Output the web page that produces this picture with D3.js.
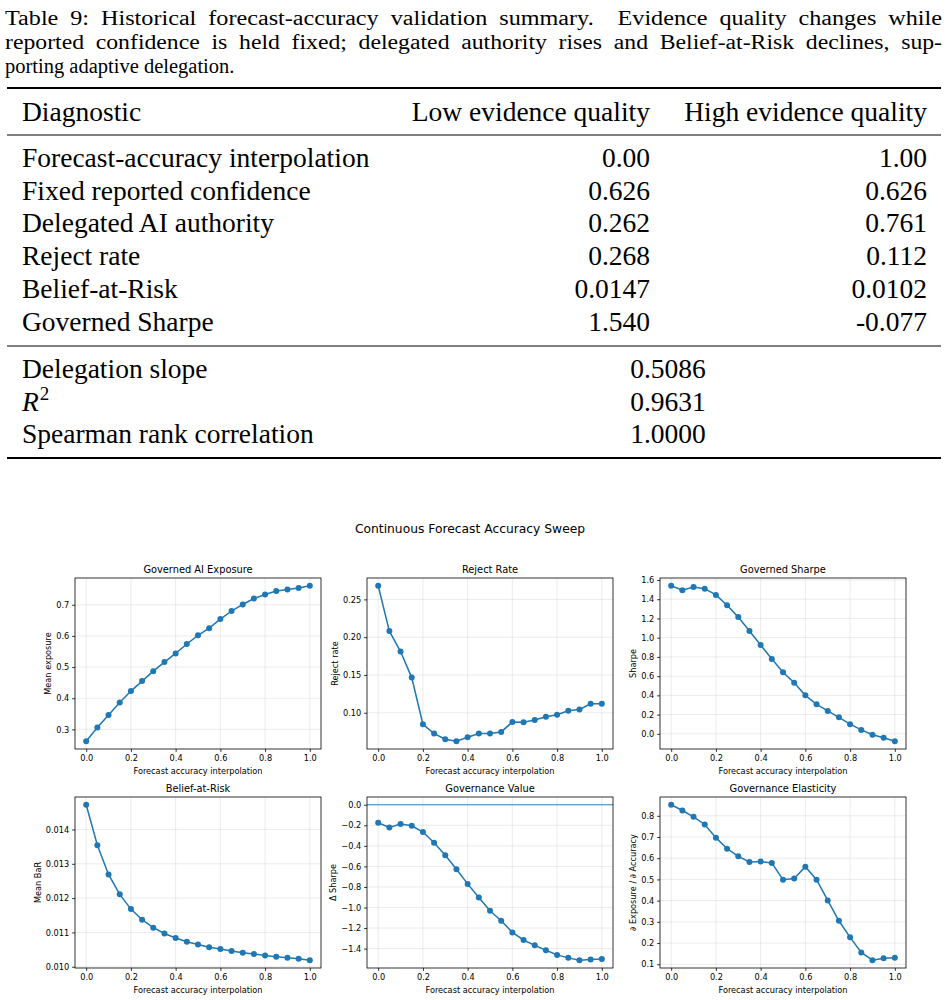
<!DOCTYPE html>
<html>
<head>
<meta charset="utf-8">
<script src="https://cdn.jsdelivr.net/npm/d3@7"></script>
<style>
body {
  margin: 0;
  padding: 0;
  background: #fff;
}
.tex {
  font-family: "Liberation Serif", "DejaVu Serif", serif;
  fill: #000;
}
.mpl {
  font-family: "DejaVu Sans", sans-serif;
  fill: #000;
}
.grid line {
  stroke: #b0b0b0;
  stroke-opacity: 0.3;
  stroke-width: 0.8px;
}
</style>
</head>
<body>
<svg></svg>

<script>
// table
var captionLines = [
  'Table 9: Historical forecast-accuracy validation summary.  Evidence quality changes while',
  'reported confidence is held fixed; delegated authority rises and Belief-at-Risk declines, sup-',
  'porting adaptive delegation.'
];
var tableHeader = ['Diagnostic', 'Low evidence quality', 'High evidence quality'];
var rowLabels = ['Forecast-accuracy interpolation', 'Fixed reported confidence', 'Delegated AI authority',
  'Reject rate', 'Belief-at-Risk', 'Governed Sharpe'];
var lowValues = ['0.00', '0.626', '0.262', '0.268', '0.0147', '1.540'];
var highValues = ['1.00', '0.626', '0.761', '0.112', '0.0102', '-0.077'];
var fitLabels = ['Delegation slope', 'R2', 'Spearman rank correlation'];
var fitValues = ['0.5086', '0.9631', '1.0000'];

// sweep
var accuracy = [0, 0.05, 0.1, 0.15, 0.2, 0.25, 0.3, 0.35, 0.4, 0.45, 0.5,
  0.55, 0.6, 0.65, 0.7, 0.75, 0.8, 0.85, 0.9, 0.95, 1.0];
var exposure = [0.262, 0.306, 0.346, 0.386, 0.423, 0.455, 0.487, 0.516, 0.544, 0.574, 0.602,
  0.625, 0.654, 0.680, 0.701, 0.720, 0.733, 0.744, 0.749, 0.754, 0.761];
var rejectRate = [0.268, 0.208, 0.181, 0.1465, 0.0847, 0.0724, 0.0649, 0.0623, 0.0675, 0.0724, 0.0724,
  0.0746, 0.0877, 0.0873, 0.0904, 0.0947, 0.0974, 0.1026, 0.1044, 0.1118, 0.112];
var sharpe = [1.540, 1.493, 1.528, 1.510, 1.445, 1.338, 1.214, 1.069, 0.924, 0.779, 0.641,
  0.531, 0.400, 0.307, 0.238, 0.172, 0.100, 0.041, -0.010, -0.041, -0.077];
var beliefAtRisk = [0.01472, 0.01354, 0.01269, 0.01211, 0.01168, 0.01137, 0.01114, 0.01097, 0.01084, 0.01073, 0.01065,
  0.01057, 0.01052, 0.01046, 0.01041, 0.01037, 0.01033, 0.01029, 0.01026, 0.01023, 0.01019];
var governanceValue = [-0.175, -0.220, -0.188, -0.204, -0.265, -0.369, -0.491, -0.627, -0.770, -0.902, -1.031,
  -1.128, -1.242, -1.316, -1.368, -1.416, -1.461, -1.490, -1.513, -1.507, -1.500];
var elasticity = [0.852, 0.825, 0.795, 0.759, 0.697, 0.645, 0.609, 0.582, 0.584, 0.578, 0.499,
  0.504, 0.560, 0.499, 0.401, 0.305, 0.227, 0.156, 0.119, 0.128, 0.131];

var xTicks = [0, 0.2, 0.4, 0.6, 0.8, 1.0];
var exposureTicks = [0.3, 0.4, 0.5, 0.6, 0.7];
var rejectTicks = [0.10, 0.15, 0.20, 0.25];
var sharpeTicks = [0, 0.2, 0.4, 0.6, 0.8, 1.0, 1.2, 1.4, 1.6];
var barTicks = [0.010, 0.011, 0.012, 0.013, 0.014];
var valueTicks = [0, -0.2, -0.4, -0.6, -0.8, -1.0, -1.2, -1.4];
var elasticityTicks = [0.1, 0.2, 0.3, 0.4, 0.5, 0.6, 0.7, 0.8];

var suptitle = 'Continuous Forecast Accuracy Sweep';
var xLabel = 'Forecast accuracy interpolation';

var panels = [
  {title: 'Governed AI Exposure', ylabel: 'Mean exposure', values: exposure, ticks: exposureTicks, fmt: '.1f'},
  {title: 'Reject Rate', ylabel: 'Reject rate', values: rejectRate, ticks: rejectTicks, fmt: '.2f'},
  {title: 'Governed Sharpe', ylabel: 'Sharpe', values: sharpe, ticks: sharpeTicks, fmt: '.1f'},
  {title: 'Belief-at-Risk', ylabel: 'Mean BaR', values: beliefAtRisk, ticks: barTicks, fmt: '.3f'},
  {title: 'Governance Value', ylabel: '\u0394 Sharpe', values: governanceValue, ticks: valueTicks, fmt: '.1f', zeroLine: true},
  {title: 'Governance Elasticity', ylabel: '\u2202 Exposure / \u2202 Accuracy', values: elasticity, ticks: elasticityTicks, fmt: '.1f'}
];

var width = 949,
  height = 1000;

var svg = d3.select('svg')
  .attr('width', width)
  .attr('height', height);

// ---- caption + table ----
var cap = svg.append('g').attr('class', 'tex');
var capWidth = 937;
captionLines.forEach(function(line, i) {
  var t = cap.append('text')
    .attr('x', 5)
    .attr('y', 25 + i * 24)
    .attr('font-size', 20.5)
    .attr('xml:space', 'preserve')
    .text(line);
  if (i < captionLines.length - 1) {
    // justified lines: extra word space, glyphs stretched for the rest
    t.attr('word-spacing', 5)
      .attr('textLength', capWidth)
      .attr('lengthAdjust', 'spacingAndGlyphs');
  }
});

var rule = function(y, w) {
  svg.append('line')
    .attr('x1', 7).attr('x2', 941)
    .attr('y1', y).attr('y2', y)
    .attr('stroke', '#000')
    .attr('stroke-width', w);
};
rule(88, 2.2);
rule(135, 1.2);
rule(346, 1.2);
rule(458, 2.2);

var tbl = svg.append('g').attr('class', 'tex').attr('font-size', 27.5);
var colX = [22, 650, 927];

tableHeader.forEach(function(h, i) {
  tbl.append('text')
    .attr('x', colX[i])
    .attr('y', 121)
    .attr('text-anchor', i === 0 ? 'start' : 'end')
    .text(h);
});

var rowY = d3.range(rowLabels.length).map(function(i) { return 167 + i * 32.7; });
rowLabels.forEach(function(r, i) {
  tbl.append('text').attr('x', colX[0]).attr('y', rowY[i]).text(r);
  tbl.append('text').attr('x', colX[1]).attr('y', rowY[i]).attr('text-anchor', 'end').text(lowValues[i]);
  tbl.append('text').attr('x', colX[2]).attr('y', rowY[i]).attr('text-anchor', 'end').text(highValues[i]);
});

fitLabels.forEach(function(r, i) {
  var y = 378 + i * 32.7;
  var t = tbl.append('text').attr('x', colX[0]).attr('y', y);
  if (r === 'R2') {
    t.append('tspan').attr('font-style', 'italic').text('R');
    t.append('tspan').attr('font-size', 19).attr('dx', 1).attr('dy', -11).text('2');
  } else {
    t.text(r);
  }
  tbl.append('text').attr('x', 668).attr('y', y).attr('text-anchor', 'middle').text(fitValues[i]);
});

// ---- charts ----
svg.append('text')
  .attr('class', 'mpl')
  .attr('x', 470)
  .attr('y', 532.5)
  .attr('text-anchor', 'middle')
  .attr('font-size', 12.3)
  .text(suptitle);

var colLeft = [75, 367, 660],
  rowTop = [578, 797],
  pw = 246,
  ph = 171;

var fs = 8.2;
var blue = '#1f77b4';

panels.forEach(function(p, k) {
  var g = svg.append('g')
    .attr('class', 'mpl')
    .attr('transform', 'translate(' + colLeft[k % 3] + ',' + rowTop[Math.floor(k / 3)] + ')');

  var x = d3.scaleLinear().domain([-0.05, 1.05]).range([0, pw]);
  var ext = d3.extent(p.zeroLine ? p.values.concat([0]) : p.values);
  var pad = (ext[1] - ext[0]) * 0.05;
  var y = d3.scaleLinear().domain([ext[0] - pad, ext[1] + pad]).range([ph, 0]);

  // grid
  var grid = g.append('g').attr('class', 'grid');
  grid.selectAll('.gx').data(xTicks).enter().append('line')
    .attr('x1', function(d) { return x(d); }).attr('x2', function(d) { return x(d); })
    .attr('y1', 0).attr('y2', ph);
  grid.selectAll('.gy').data(p.ticks).enter().append('line')
    .attr('y1', function(d) { return y(d); }).attr('y2', function(d) { return y(d); })
    .attr('x1', 0).attr('x2', pw);

  if (p.zeroLine) {
    g.append('line')
      .attr('x1', 0).attr('x2', pw)
      .attr('y1', y(0)).attr('y2', y(0))
      .attr('stroke', blue)
      .attr('stroke-width', 0.9);
  }

  var line = d3.line()
    .x(function(d, i) { return x(accuracy[i]); })
    .y(function(d) { return y(d); });

  g.append('path')
    .datum(p.values)
    .attr('fill', 'none')
    .attr('stroke', blue)
    .attr('stroke-width', 1.5)
    .attr('d', line);

  g.selectAll('circle').data(p.values).enter().append('circle')
    .attr('cx', function(d, i) { return x(accuracy[i]); })
    .attr('cy', function(d) { return y(d); })
    .attr('r', 3)
    .attr('fill', blue);

  // axes
  var xAxis = g.append('g')
    .attr('transform', 'translate(0,' + ph + ')')
    .call(d3.axisBottom(x).tickValues(xTicks).tickFormat(d3.format('.1f')).tickSize(2.9).tickPadding(2.9));
  var yAxis = g.append('g')
    .call(d3.axisLeft(y).tickValues(p.ticks).tickFormat(d3.format(p.fmt)).tickSize(2.9).tickPadding(2.9));

  [xAxis, yAxis].forEach(function(a) {
    a.select('.domain').remove();
    a.selectAll('line').attr('stroke', '#000').attr('stroke-width', 0.8);
    a.selectAll('text')
      .attr('font-family', '"DejaVu Sans", sans-serif')
      .attr('font-size', fs)
      .attr('fill', '#000');
  });

  g.append('rect')
    .attr('width', pw)
    .attr('height', ph)
    .attr('fill', 'none')
    .attr('stroke', '#000')
    .attr('stroke-width', 0.8);

  g.append('text')
    .attr('x', pw / 2)
    .attr('y', -5)
    .attr('text-anchor', 'middle')
    .attr('font-size', 9.84)
    .text(p.title);

  g.append('text')
    .attr('x', pw / 2)
    .attr('y', ph + 24.5)
    .attr('text-anchor', 'middle')
    .attr('font-size', fs)
    .text(xLabel);

  var bb = yAxis.node().getBBox();
  g.append('text')
    .attr('transform', 'translate(' + (bb.x - 5.2) + ',' + (ph / 2) + ') rotate(-90)')
    .attr('text-anchor', 'middle')
    .attr('font-size', fs)
    .text(p.ylabel);
});
</script>
</body>
</html>
